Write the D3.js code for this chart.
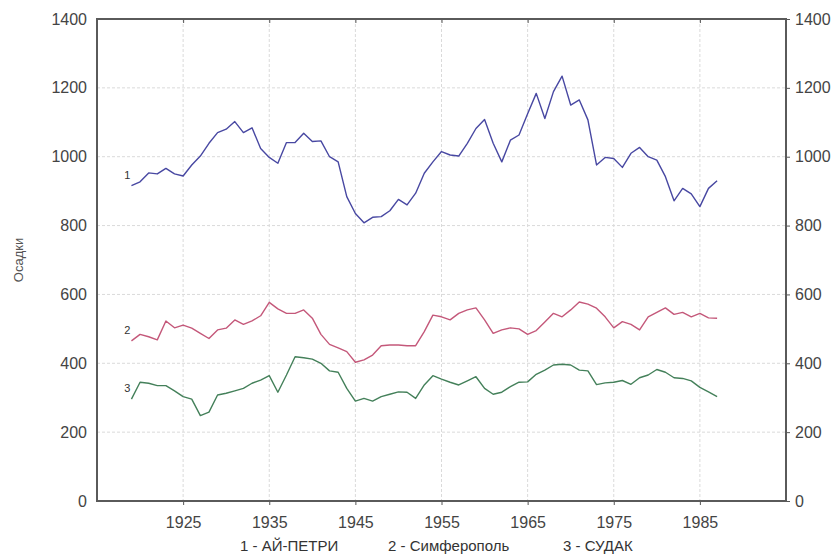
<!DOCTYPE html>
<html>
<head>
<meta charset="utf-8">
<script src="https://cdn.jsdelivr.net/npm/d3@7"></script>
<style>
  body { margin: 0; background: #fff; }
  text { font-family: "Liberation Sans", Arial, sans-serif; }
</style>
</head>
<body>
<div id="chart"></div>
<script>
// годы наблюдений
const years = d3.range(1919, 1988);

// 1 - Ай-Петри
const aiPetri = [916, 927, 953, 950, 966, 950, 944, 976, 1002, 1039, 1070, 1080, 1102, 1070, 1084, 1024,
  998, 981, 1041, 1041, 1068, 1044, 1046, 1000, 985, 884, 835, 808, 824, 826, 843, 876, 860, 894,
  952, 985, 1015, 1005, 1002, 1039, 1082, 1108, 1039, 985, 1048, 1063, 1125, 1184, 1111, 1189,
  1234, 1150, 1165, 1107, 976, 998, 995, 969, 1010, 1027, 1000, 990, 942, 872, 908, 892, 855, 908, 930];

// 2 - Симферополь
const simferopol = [465, 484, 477, 468, 523, 503, 511, 502, 487, 472, 497, 502, 526, 513, 523, 538,
  577, 558, 545, 545, 555, 531, 484, 455, 445, 434, 403, 410, 424, 451, 453, 453, 451, 451,
  492, 540, 535, 526, 545, 555, 561, 526, 487, 497, 503, 500, 484, 495, 520, 545,
  535, 555, 578, 572, 560, 535, 503, 521, 513, 497, 535, 548, 561, 542, 548, 535, 545, 532, 531];

// 3 - Судак
const sudak = [296, 345, 342, 335, 335, 320, 303, 296, 248, 258, 308, 313, 320, 327, 342, 351,
  364, 316, 366, 419, 416, 412, 400, 378, 374, 327, 290, 298, 290, 303, 310, 317, 316, 298,
  337, 364, 354, 345, 337, 349, 361, 327, 310, 316, 332, 345, 346, 368, 380, 395,
  397, 395, 380, 378, 338, 343, 345, 350, 339, 358, 366, 382, 374, 358, 356, 349, 330, 317, 303];

const xTicks = [1925, 1935, 1945, 1955, 1965, 1975, 1985];
const yTicks = [0, 200, 400, 600, 800, 1000, 1200, 1400];
const seriesNames = ["1", "2", "3"];
const legendLabels = ["1 - АЙ-ПЕТРИ", "2 - Симферополь", "3 - СУДАК"];

const width = 837, height = 557;
const margin = { top: 19, right: 51, bottom: 56, left: 97 };
const innerW = width - margin.left - margin.right;
const innerH = height - margin.top - margin.bottom;

const svg = d3.select("#chart").append("svg")
  .attr("width", width)
  .attr("height", height);

svg.append("rect").attr("width", width).attr("height", height).attr("fill", "#fff");

const g = svg.append("g").attr("transform", `translate(${margin.left},${margin.top})`);

const x = d3.scaleLinear().domain([1915, 1995]).range([0, innerW]);
const y = d3.scaleLinear().domain([0, 1400]).range([innerH, 0]);

// сетка
g.append("g")
  .selectAll("line")
  .data(xTicks)
  .join("line")
  .attr("x1", d => x(d)).attr("x2", d => x(d))
  .attr("y1", 0).attr("y2", innerH)
  .attr("stroke", "#dadada")
  .attr("stroke-dasharray", "3,2");

g.append("g")
  .selectAll("line")
  .data(yTicks.filter(d => d > 0 && d < 1400))
  .join("line")
  .attr("x1", 0).attr("x2", innerW)
  .attr("y1", d => y(d)).attr("y2", d => y(d))
  .attr("stroke", "#dadada")
  .attr("stroke-dasharray", "3,2");

// оси
const styleAxis = sel => {
  sel.select(".domain").remove();
  sel.selectAll(".tick line").attr("stroke", "#555");
  sel.selectAll(".tick text").attr("fill", "#444").style("font-size", "16px");
};

g.append("g")
  .attr("transform", `translate(0,${innerH})`)
  .call(d3.axisBottom(x).tickValues(xTicks).tickFormat(d3.format("d")).tickSize(4).tickPadding(12))
  .call(styleAxis);

g.append("g")
  .call(d3.axisTop(x).tickValues(xTicks).tickFormat("").tickSize(-4))
  .call(styleAxis);

g.append("g")
  .call(d3.axisLeft(y).tickValues(yTicks).tickFormat(d3.format("d")).tickSize(0).tickPadding(10))
  .call(styleAxis);

g.append("g")
  .attr("transform", `translate(${innerW},0)`)
  .call(d3.axisRight(y).tickValues(yTicks).tickFormat(d3.format("d")).tickSize(4).tickPadding(5))
  .call(styleAxis);

// рамка
g.append("rect")
  .attr("width", innerW)
  .attr("height", innerH)
  .attr("fill", "none")
  .attr("stroke", "#5a5a5a")
  .attr("stroke-width", 2);

// линии
const colors = ["#4848a2", "#c4587a", "#44805a"];
const series = [aiPetri, simferopol, sudak];

const line = d3.line()
  .x((d, i) => x(years[i]))
  .y(d => y(d));

series.forEach((vals, k) => {
  g.append("path")
    .datum(vals)
    .attr("fill", "none")
    .attr("stroke", colors[k])
    .attr("stroke-width", 1.4)
    .attr("stroke-linejoin", "round")
    .attr("d", line);

  g.append("text")
    .attr("x", x(years[0]) - 1)
    .attr("y", y(vals[0]) - 7)
    .attr("text-anchor", "end")
    .attr("fill", "#333")
    .style("font-size", "11px")
    .text(seriesNames[k]);
});

// подпись оси Y
svg.append("text")
  .attr("transform", "translate(23,260) rotate(-90)")
  .attr("text-anchor", "middle")
  .attr("fill", "#555")
  .style("font-size", "13px")
  .text("Осадки");

// легенда
const legendX = [240, 388, 563];
svg.append("g")
  .selectAll("text")
  .data(legendLabels)
  .join("text")
  .attr("x", (d, i) => legendX[i])
  .attr("y", 551)
  .attr("fill", "#333")
  .style("font-size", "15px")
  .text(d => d);
</script>
</body>
</html>
